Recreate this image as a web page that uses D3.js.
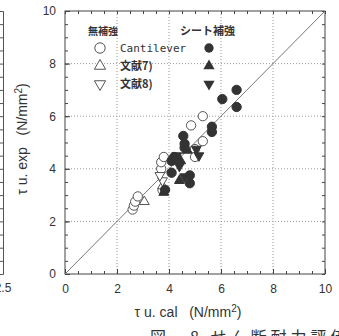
<!DOCTYPE html>
<html>
<head>
<meta charset="utf-8">
<script src="https://cdn.jsdelivr.net/npm/d3@7"></script>
<style>
body { margin: 0; background: #fff; }
text { font-family: "Liberation Sans", Arial, sans-serif; fill: #333; }
.jp { font-family: "Noto Sans CJK JP", sans-serif; }
.mono { font-family: "DejaVu Sans Mono", monospace; }
.title { white-space: pre; }
</style>
</head>
<body>
<svg class="chart"></svg>
<script>
// tau u.cal / tau u.exp pairs
const plainCantilever = [[2.6, 2.45], [2.65, 2.6], [2.7, 2.75], [2.8, 2.95], [3.7, 4.0], [3.7, 4.25], [3.8, 4.45], [3.75, 3.2], [4.85, 5.65], [5.3, 6.0], [5.3, 5.05], [5.0, 4.75], [5.0, 4.45]];
const plainRef7 = [[3.05, 2.75], [3.75, 3.35]];
const plainRef8 = [[3.75, 3.55], [3.65, 3.75]];
const sheetCantilever = [[3.85, 3.2], [4.1, 4.3], [4.1, 3.85], [4.2, 4.45], [4.55, 5.25], [4.6, 4.95], [4.6, 4.8], [4.8, 3.75], [4.8, 3.45], [5.65, 5.6], [5.65, 5.4], [6.05, 6.65], [6.6, 7.0], [6.6, 6.35]];
const sheetRef7 = [[3.8, 3.1], [4.4, 3.55], [4.7, 4.7], [4.45, 4.3]];
const sheetRef8 = [[4.3, 4.5], [4.4, 4.1], [5.05, 4.75], [5.15, 4.5], [4.6, 3.7]];
const majorTicks = [0, 2, 4, 6, 8, 10];
const minorTicks = d3.range(0, 10.01, 0.5);

const width = 339, height = 336;
const m = { left: 65, right: 325, top: 11, bottom: 274 };

const x = d3.scaleLinear().domain([0, 10]).range([m.left, m.right]);
const y = d3.scaleLinear().domain([0, 10]).range([m.bottom, m.top]);

const svg = d3.select(".chart").attr("width", width).attr("height", height);

// edge of the neighbouring figure, cut off on the left
svg.append("g").attr("transform", "translate(3,0)")
  .call(d3.axisLeft(y).tickValues(minorTicks).tickSize(3).tickFormat(""))
  .call(g => g.selectAll("line,path").attr("stroke", "#555"));
svg.append("text").attr("x", 3).attr("y", 292).attr("text-anchor", "middle")
  .attr("font-size", 12).text("2.5");

// grid
const grid = svg.append("g").attr("stroke", "#999").attr("stroke-dasharray", "1,2").attr("stroke-width", 1);
grid.selectAll(".gx").data(majorTicks.slice(1, -1)).join("line").attr("class", "gx")
  .attr("x1", d => x(d)).attr("x2", d => x(d)).attr("y1", m.top).attr("y2", m.bottom);
grid.selectAll(".gy").data(majorTicks.slice(1, -1)).join("line").attr("class", "gy")
  .attr("y1", d => y(d)).attr("y2", d => y(d)).attr("x1", m.left).attr("x2", m.right);

// axes with inward ticks
function styleAxis(g) {
  g.select(".domain").remove();
  g.selectAll("line").attr("stroke", "#444");
  g.selectAll("text").attr("font-size", 12).attr("fill", "#333");
}
svg.append("g").attr("transform", `translate(0,${m.bottom})`)
  .call(d3.axisBottom(x).tickValues(minorTicks).tickSize(-3).tickFormat(""))
  .call(styleAxis);
svg.append("g").attr("transform", `translate(0,${m.bottom})`)
  .call(d3.axisBottom(x).tickValues(majorTicks).tickSize(-5).tickPadding(10).tickFormat(d3.format("d")))
  .call(styleAxis);
svg.append("g").attr("transform", `translate(0,${m.top})`)
  .call(d3.axisTop(x).tickValues(minorTicks).tickSize(-3).tickFormat(""))
  .call(styleAxis);
svg.append("g").attr("transform", `translate(${m.left},0)`)
  .call(d3.axisLeft(y).tickValues(minorTicks).tickSize(-3).tickFormat(""))
  .call(styleAxis);
svg.append("g").attr("transform", `translate(${m.left},0)`)
  .call(d3.axisLeft(y).tickValues(majorTicks).tickSize(-5).tickPadding(9).tickFormat(d3.format("d")))
  .call(styleAxis);
svg.append("g").attr("transform", `translate(${m.right},0)`)
  .call(d3.axisRight(y).tickValues(minorTicks).tickSize(-3).tickFormat(""))
  .call(styleAxis);

svg.append("rect").attr("x", m.left).attr("y", m.top).attr("width", m.right - m.left).attr("height", m.bottom - m.top)
  .attr("fill", "none").attr("stroke", "#444").attr("stroke-width", 1);

// 1:1 line
svg.append("line").attr("x1", x(0)).attr("y1", y(0)).attr("x2", x(10)).attr("y2", y(10))
  .attr("stroke", "#777").attr("stroke-width", 1);

// markers
const circle = d3.symbol().type(d3.symbolCircle).size(68);
const tri = d3.symbol().type(d3.symbolTriangle).size(42);
const bigCircle = d3.symbol().type(d3.symbolCircle).size(85);
const bigTri = d3.symbol().type(d3.symbolTriangle).size(55);
function plot(data, path, rot, filled) {
  svg.append("g").selectAll("path").data(data).join("path")
    .attr("d", path)
    .attr("transform", d => `translate(${x(d[0])},${y(d[1])}) rotate(${rot})`)
    .attr("fill", filled ? "#333" : "#fff")
    .attr("stroke", filled ? "#333" : "#555")
    .attr("stroke-width", 1);
}
plot(plainCantilever, circle, 0, false);
plot(plainRef7, tri, 0, false);
plot(plainRef8, tri, 180, false);
plot(sheetCantilever, circle, 0, true);
plot(sheetRef7, tri, 0, true);
plot(sheetRef8, tri, 180, true);

// legend
const legend = svg.append("g");
legend.append("text").attr("class", "jp").attr("x", 88).attr("y", 35)
  .attr("font-size", 10).attr("font-weight", "bold").text("無補強");
legend.append("text").attr("class", "jp").attr("x", 180).attr("y", 35)
  .attr("font-size", 11).attr("font-weight", "bold").text("シート補強");
const rows = [
  { label: "Cantilever", open: bigCircle, fill: circle, rot: 0, cls: "mono" },
  { label: "文献7)", open: bigTri, fill: bigTri, rot: 0, cls: "jp" },
  { label: "文献8)", open: bigTri, fill: bigTri, rot: 180, cls: "jp" }
];
rows.forEach((r, i) => {
  const ly = 48 + i * 18;
  legend.append("path").attr("d", r.open())
    .attr("transform", `translate(100,${ly}) rotate(${r.rot})`)
    .attr("fill", "#fff").attr("stroke", "#555");
  legend.append("path").attr("d", r.fill())
    .attr("transform", `translate(209,${ly}) rotate(${r.rot})`)
    .attr("fill", "#333");
  legend.append("text").attr("class", r.cls).attr("x", 120).attr("y", ly + 4)
    .attr("font-size", 11).attr("font-weight", r.cls === "jp" ? "bold" : "normal").text(r.label);
});

// axis titles
const xt = svg.append("text").attr("class", "title").attr("x", 188).attr("y", 317).attr("text-anchor", "middle").attr("font-size", 14);
xt.append("tspan").text("τ u. cal   (N/mm");
xt.append("tspan").attr("dy", -5).attr("font-size", 10).text("2");
xt.append("tspan").attr("dy", 5).text(")");

const yt = svg.append("text").attr("class", "title").attr("transform", "translate(27,139) rotate(-90)").attr("text-anchor", "middle").attr("font-size", 14);
yt.append("tspan").text("τ u. exp   (N/mm");
yt.append("tspan").attr("dy", -5).attr("font-size", 10).text("2");
yt.append("tspan").attr("dy", 5).text(")");

// figure caption, cut off at the bottom edge
svg.append("text").attr("class", "jp").attr("x", 150).attr("y", 343)
  .attr("font-size", 16).attr("letter-spacing", 4).text("図－8 せん断耐力評価式");
</script>
</body>
</html>
